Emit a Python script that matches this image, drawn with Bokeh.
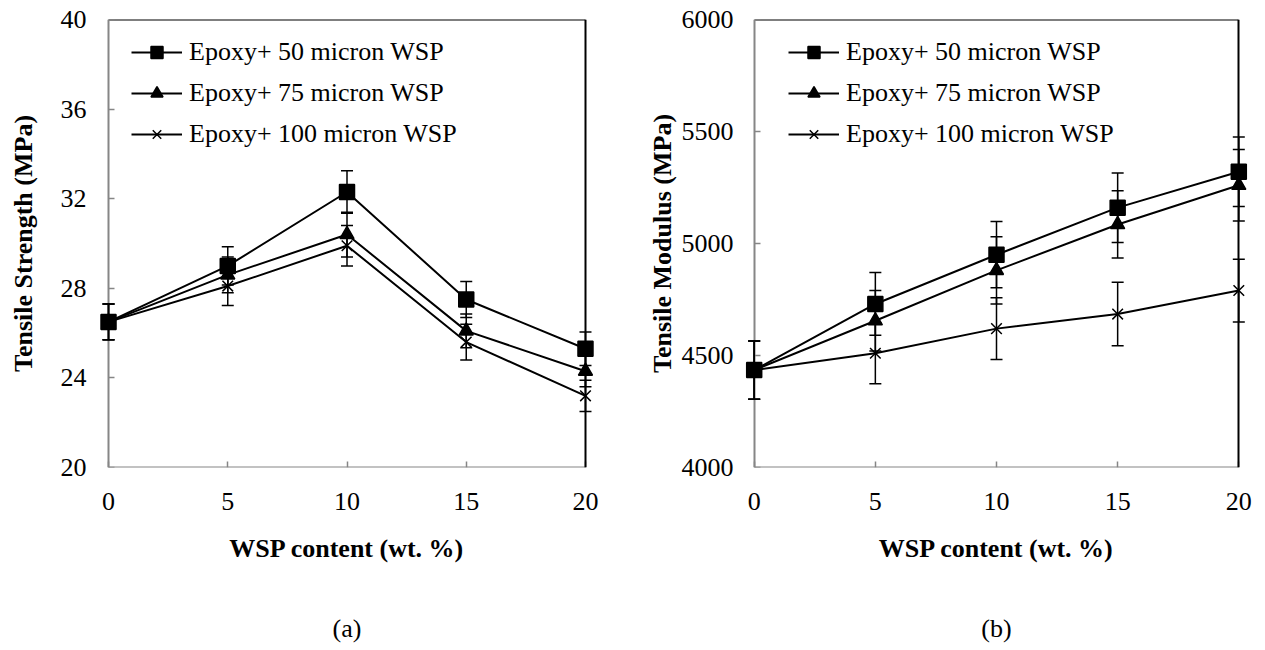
from bokeh.plotting import figure
from bokeh.models import (ColumnDataSource, Range1d, FixedTicker, Whisker, TeeHead,
                          Legend, LegendItem, Title, LinearAxis)
from bokeh.layouts import row
from bokeh.embed import file_html
from bokeh.resources import INLINE

# ---------------- data ----------------
wsp = [0, 5, 10, 15, 20]
series_names = ["Epoxy+ 50 micron WSP", "Epoxy+ 75 micron WSP", "Epoxy+ 100 micron WSP"]

ts_50 = [26.5, 29.0, 32.3, 27.5, 25.3]
ts_50_err = [0.8, 0.85, 0.95, 0.8, 0.75]
ts_75 = [26.5, 28.6, 30.4, 26.1, 24.3]
ts_75_err = [0.8, 0.8, 1.0, 0.75, 0.7]
ts_100 = [26.5, 28.1, 29.9, 25.6, 23.2]
ts_100_err = [0.8, 0.87, 0.9, 0.8, 0.7]

tm_50 = [4435, 4730, 4950, 5160, 5320]
tm_50_err = [130, 140, 148, 155, 155]
tm_75 = [4435, 4655, 4880, 5085, 5260]
tm_75_err = [130, 135, 150, 150, 160]
tm_100 = [4435, 4510, 4620, 4685, 4790]
tm_100_err = [130, 136, 138, 142, 140]

x_ticks = [0, 5, 10, 15, 20]
ts_ticks = [20, 24, 28, 32, 36, 40]
tm_ticks = [4000, 4500, 5000, 5500, 6000]

FONT = "Liberation Serif"
GRAY = "#868686"


def line_axis(color, ticks=(), **kw):
    # axis used only to draw a frame line (and inner ticks), beneath the data
    return LinearAxis(ticker=FixedTicker(ticks=list(ticks)), axis_line_color=color,
                      axis_line_width=2, major_tick_line_color=GRAY,
                      major_tick_line_width=1.5, major_tick_in=6, major_tick_out=0,
                      minor_tick_line_color=None, major_label_text_color=None,
                      major_label_text_alpha=0, major_label_text_font_size="1px",
                      major_label_standoff=0, level="underlay", **kw)


def make_plot(ys, errs, yr, yticks, ylabel, caption, pad, frame_w, border_left,
              border_right, ytick_standoff, ylab_standoff, legend_x):
    p = figure(frame_width=frame_w, frame_height=448, output_backend="svg",
               toolbar_location=None, x_range=Range1d(0 - pad, 20 + pad),
               y_range=Range1d(*yr),
               min_border_left=border_left, min_border_right=border_right,
               min_border_top=19, min_border_bottom=183)
    p.outline_line_color = None
    p.xgrid.visible = False
    p.ygrid.visible = False
    p.background_fill_color = "white"
    p.border_fill_color = "white"

    xa = p.xaxis[0]
    ya = p.yaxis[0]
    for ax, ticks in ((xa, x_ticks), (ya, yticks)):
        ax.ticker = FixedTicker(ticks=ticks)
        ax.minor_tick_line_color = None
        ax.axis_line_color = None
        ax.major_tick_line_color = None
        ax.major_tick_in = 0
        ax.major_tick_out = 0
        ax.major_label_text_font = FONT
        ax.major_label_text_font_size = "26px"
        ax.major_label_text_color = "black"
        ax.axis_label_text_font = FONT
        ax.axis_label_text_font_size = "26px"
        ax.axis_label_text_font_style = "bold"
        ax.axis_label_text_color = "black"
    xa.major_label_standoff = 25
    ya.major_label_standoff = ytick_standoff
    xa.axis_label = "WSP content (wt. %)"
    xa.axis_label_standoff = 21
    ya.axis_label = ylabel
    ya.axis_label_standoff = ylab_standoff

    # frame lines drawn beneath the data: gray left/bottom with inner ticks, black top/right
    p.add_layout(line_axis(GRAY, x_ticks, bounds=(0, 20), fixed_location=yr[0]), "below")
    p.add_layout(line_axis(GRAY, yticks, fixed_location=0), "left")
    p.add_layout(line_axis("black", bounds=(0, 20)), "above")
    p.add_layout(line_axis("black", fixed_location=20), "right")

    markers = ["square", "triangle", "x"]
    msizes = [15, 14, 15]
    items = {}
    # draw in reverse so that squares sit on top
    for i in [2, 1, 0]:
        y = ys[i]
        e = errs[i]
        src = ColumnDataSource(dict(x=wsp, y=y,
                                    lo=[a - b for a, b in zip(y, e)],
                                    hi=[a + b for a, b in zip(y, e)]))
        w = Whisker(source=src, base="x", upper="hi", lower="lo", line_color="black",
                    line_width=1.5,
                    upper_head=TeeHead(size=12, line_color="black", line_width=1.5),
                    lower_head=TeeHead(size=12, line_color="black", line_width=1.5))
        p.add_layout(w)
        ln = p.line("x", "y", source=src, line_color="black", line_width=2)
        mk = p.scatter("x", "y", source=src, marker=markers[i], size=msizes[i],
                       fill_color="black", line_color="black", line_width=1.5)
        items[i] = LegendItem(label=series_names[i], renderers=[ln, mk])

    legend = Legend(items=[items[0], items[1], items[2]], location=(legend_x, 318))
    legend.label_text_font = FONT
    legend.label_text_font_size = "26px"
    legend.label_text_color = "black"
    legend.border_line_color = None
    legend.background_fill_alpha = 0
    legend.glyph_width = 51
    legend.glyph_height = 30
    legend.label_height = 30
    legend.label_standoff = 7
    legend.spacing = 11
    legend.margin = 0
    legend.padding = 0
    p.add_layout(legend)

    cap = Title(text=caption, align="center", text_font=FONT, text_font_size="26px",
                text_font_style="normal", text_color="black", standoff=93)
    p.add_layout(cap, "below")
    return p


p1 = make_plot([ts_50, ts_75, ts_100], [ts_50_err, ts_75_err, ts_100_err], (20, 40),
               ts_ticks, "Tensile Strength (MPa)", "(a)", 0.42, 497, 98, 30, 12, 20, 33)
p2 = make_plot([tm_50, tm_75, tm_100], [tm_50_err, tm_75_err, tm_100_err], (4000, 6000),
               tm_ticks, "Tensile Modulus (MPa)", "(b)", 0.4, 504, 119, 10, 11, 2, 44)

p = row(p1, p2)
open("out.html", "w").write(file_html(p, INLINE))
